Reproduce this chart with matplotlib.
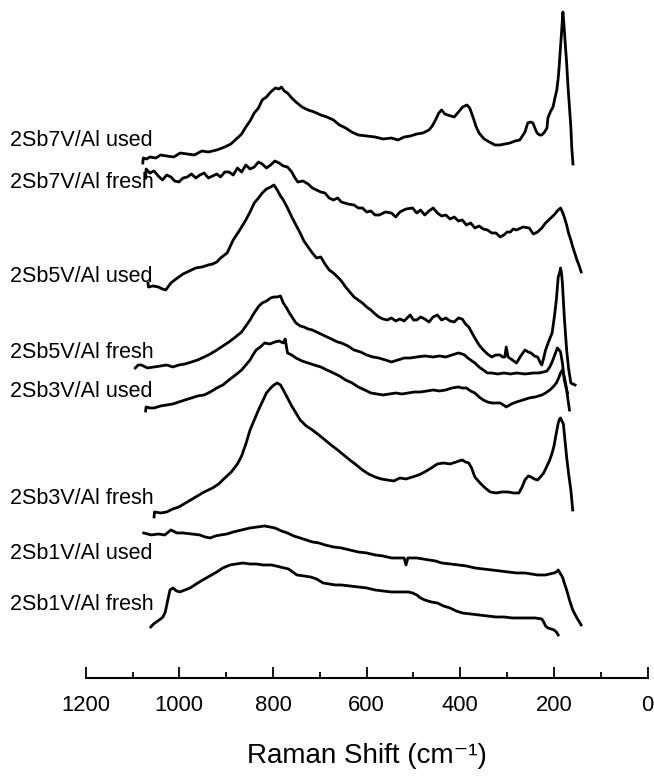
import matplotlib
matplotlib.use("Agg")
import matplotlib.pyplot as plt
import matplotlib.transforms as mtransforms
from matplotlib.ticker import MultipleLocator

plt.rcParams['font.family'] = ['Liberation Sans', 'DejaVu Sans']

# Stacked Raman spectra (arbitrary intensity units, offsets included)
labels = ["2Sb7V/Al used", "2Sb7V/Al fresh", "2Sb5V/Al used", "2Sb5V/Al fresh",
          "2Sb3V/Al used", "2Sb3V/Al fresh", "2Sb1V/Al used", "2Sb1V/Al fresh"]
label_levels = [537, 495, 401, 325, 286, 179, 124, 73]

sb7v_used_w = [1078, 1077, 1070, 1063, 1050, 1040, 1027, 1012, 998, 983, 968, 952, 938, 920,
               903, 890, 876, 867, 858, 849, 840, 831, 823, 814, 805, 795, 787, 782, 776,
               769, 760, 751, 738, 725, 712, 698, 685, 671, 658, 645, 632, 618, 600, 582,
               565, 547, 533, 520, 507, 493, 480, 467, 460, 453, 446, 440, 433, 427, 420,
               413, 404, 395, 386, 380, 373, 366, 360, 349, 338, 326, 315, 305, 294, 283,
               273, 262, 256, 250, 245, 240, 236, 231, 226, 220, 215, 213, 208, 202, 198,
               194, 191, 189, 187, 185, 183, 181, 179, 176.5, 173, 170, 167, 164, 162, 159.5]
sb7v_used_i = [515, 520, 519, 521, 520, 523, 522, 521, 525, 524, 523, 527, 526, 528,
               531, 534, 540, 544, 551, 557, 565, 570, 578, 581, 586, 590, 589, 591, 587,
               585, 580, 576, 571, 568, 566, 563, 561, 558, 553, 550, 546, 543, 542, 541,
               539, 540, 538, 541, 542, 544, 545, 548, 552, 558, 565, 568, 564, 563, 562,
               561, 566, 571, 573, 570, 561, 551, 545, 539, 536, 533, 533, 534, 535, 537,
               538, 546, 555, 556, 555, 549, 545, 543, 543, 546, 550, 560, 566, 571, 580,
               588, 600, 611, 625, 638, 652, 666, 655, 638, 615, 591, 571, 551, 530, 514]

sb7v_fresh_w = [1072, 1071, 1063, 1054, 1045, 1036, 1027, 1018, 1010, 1001, 992, 983, 974,
                965, 956, 947, 938, 929, 920, 912, 903, 894, 885, 876, 867, 858, 849, 840,
                831, 823, 814, 805, 796, 787, 778, 769, 760, 753, 747, 736, 725, 716, 707,
                698, 689, 680, 671, 662, 654, 640, 627, 618, 609, 600, 591, 582, 573, 560,
                547, 538, 529, 516, 502, 493, 485, 476, 467, 458, 449, 440, 431, 422, 413,
                404, 396, 387, 378, 369, 360, 351, 342, 333, 324, 315, 307, 300, 293, 287,
                280, 266, 253, 244, 235, 226, 218, 209, 200, 193, 186, 182, 178, 173, 169,
                164, 160, 155, 151, 146, 142]
sb7v_fresh_i = [500, 509, 505, 507, 502, 498, 503, 501, 497, 496, 500, 501, 504, 500,
                503, 505, 500, 502, 504, 501, 506, 506, 503, 510, 506, 513, 509, 511,
                516, 514, 510, 513, 517, 515, 512, 511, 506, 500, 496, 497, 494, 490,
                488, 486, 485, 480, 478, 480, 476, 474, 473, 470, 470, 466, 467, 463,
                463, 466, 465, 461, 466, 469, 470, 465, 468, 463, 467, 470, 465, 462,
                463, 459, 461, 457, 458, 453, 455, 450, 452, 449, 448, 445, 445, 441,
                443, 446, 446, 449, 448, 451, 450, 444, 446, 450, 455, 459, 463, 467,
                470, 466, 461, 453, 445, 438, 431, 424, 418, 412, 406]

sb5v_used_w = [1067, 1066, 1056, 1045, 1036, 1029, 1018, 1010, 1001, 992, 983, 974, 965,
               952, 938, 929, 920, 912, 898, 885, 871, 858, 849, 840, 831, 823, 814, 805,
               798, 791, 784, 778, 769, 760, 751, 742, 734, 725, 716, 707, 698, 689, 680,
               671, 662, 654, 645, 636, 627, 618, 609, 600, 591, 582, 574, 565, 556, 547,
               538, 529, 520, 507, 500, 493, 485, 476, 467, 458, 449, 440, 431, 422, 413,
               404, 396, 389, 382, 375, 369, 360, 351, 342, 333, 324, 315, 310, 305, 302,
               298, 289, 280, 271, 262, 255, 249, 242, 235, 230, 226, 222, 218, 211, 204,
               199, 195, 191, 188, 186, 184, 182, 180, 178, 173, 169, 164, 160, 155]
sb5v_used_i = [395, 391, 392, 391, 389, 388, 395, 398, 401, 404, 406, 408, 410,
               411, 413, 414, 416, 420, 425, 438, 448, 458, 466, 475, 480, 485, 489, 491,
               493, 488, 482, 478, 470, 461, 453, 445, 437, 431, 425, 420, 421, 414, 408,
               405, 401, 397, 391, 386, 381, 378, 375, 371, 368, 364, 361, 359, 358, 360,
               357, 359, 357, 363, 358, 358, 361, 359, 356, 361, 363, 358, 360, 357, 356,
               360, 359, 354, 351, 345, 340, 333, 328, 324, 321, 323, 323, 321, 321, 331,
               321, 318, 315, 322, 328, 326, 325, 322, 321, 316, 313, 320, 328, 337, 345,
               362, 378, 401, 405, 410, 405, 395, 378, 361, 328, 310, 295, 294, 293]

sb5v_fresh_w = [1094, 1088, 1081, 1068, 1054, 1040, 1027, 1014, 1001, 988, 974, 961, 947,
                934, 920, 907, 894, 880, 867, 858, 849, 843, 836, 830, 823, 814, 805, 798,
                791, 784, 778, 771, 765, 758, 751, 742, 734, 725, 716, 707, 698, 689, 680,
                671, 662, 654, 640, 627, 613, 600, 587, 574, 560, 547, 533, 520, 507, 493,
                476, 458, 445, 431, 418, 404, 396, 391, 384, 378, 369, 360, 351, 342, 333,
                320, 307, 293, 280, 262, 244, 233, 222, 215, 209, 204, 200, 196, 193, 189,
                186, 182, 178, 175, 173, 171]
sb5v_fresh_i = [310, 313, 313, 310, 311, 312, 313, 311, 313, 314, 316, 318, 321,
                324, 328, 332, 336, 341, 346, 352, 358, 363, 368, 372, 375, 377, 380, 381,
                381, 382, 375, 370, 365, 360, 355, 352, 351, 349, 348, 346, 344, 342, 340,
                338, 336, 335, 332, 328, 326, 323, 321, 320, 318, 316, 318, 320, 320, 321,
                322, 321, 322, 321, 323, 325, 324, 323, 320, 318, 315, 311, 308, 305, 305,
                304, 305, 304, 305, 304, 305, 305, 306, 307, 311, 316, 321, 326, 330, 328,
                326, 315, 298, 292, 288, 285]

sb3v_used_w = [1072, 1071, 1063, 1054, 1040, 1027, 1014, 1001, 988, 974, 961, 947, 934,
               920, 907, 894, 880, 867, 858, 849, 843, 836, 827, 818, 807, 796, 787, 778,
               774, 769, 760, 751, 738, 725, 712, 698, 685, 671, 658, 645, 631, 618, 604,
               591, 578, 565, 551, 538, 525, 511, 498, 485, 471, 458, 445, 431, 418, 404,
               396, 387, 378, 369, 360, 351, 342, 333, 324, 315, 308, 302, 291, 280, 266,
               253, 240, 226, 218, 209, 202, 195, 190, 186, 182, 178, 175, 173, 170, 167]
sb3v_used_i = [267, 271, 270, 270, 272, 273, 274, 276, 278, 280, 282, 283, 286,
               290, 293, 298, 303, 308, 313, 318, 323, 328, 331, 335, 334, 336, 337, 335,
               339, 325, 323, 320, 317, 315, 313, 311, 308, 305, 302, 298, 295, 291, 288,
               285, 284, 283, 284, 285, 284, 285, 286, 286, 287, 288, 287, 288, 290, 291,
               290, 290, 287, 285, 281, 278, 276, 275, 275, 275, 273, 271, 274, 276, 278,
               280, 281, 283, 285, 288, 291, 295, 300, 305, 308, 301, 294, 288, 278, 268]

sb3v_fresh_w = [1054, 1053, 1040, 1027, 1014, 1001, 983, 965, 947, 929, 916, 903, 889,
                876, 867, 858, 849, 840, 831, 823, 814, 805, 798, 791, 784, 778, 769, 760,
                751, 742, 729, 716, 702, 689, 676, 662, 649, 636, 622, 609, 596, 582, 569,
                556, 542, 529, 516, 502, 489, 476, 462, 449, 436, 422, 409, 396, 389, 382,
                376, 369, 358, 347, 336, 324, 311, 298, 287, 275, 268, 262, 255, 249, 242,
                235, 229, 222, 215, 209, 204, 200, 195, 191, 188, 186, 183, 180, 177, 173,
                169, 164, 160]
sb3v_fresh_i = [161, 166, 165, 166, 169, 171, 176, 181, 186, 190, 194, 200, 206,
                214, 222, 234, 248, 258, 268, 276, 285, 290, 293, 295, 293, 288, 280, 272,
                265, 258, 252, 248, 243, 238, 233, 228, 223, 218, 213, 208, 204, 201, 199,
                198, 197, 200, 199, 201, 203, 206, 210, 214, 215, 214, 216, 218, 216, 215,
                210, 201, 195, 190, 186, 185, 186, 186, 185, 185, 191, 198, 202, 201, 199,
                198, 201, 205, 212, 218, 225, 232, 245, 255, 259, 260, 257, 254, 240, 221,
                205, 188, 168]

sb1v_used_w = [1076, 1060, 1045, 1031, 1018, 1005, 992, 974, 956, 945, 934, 923, 912,
               898, 885, 867, 849, 833, 818, 807, 796, 782, 769, 756, 742, 729, 716, 702,
               689, 671, 654, 636, 618, 600, 582, 565, 547, 533, 520, 516, 512, 493, 480,
               467, 453, 440, 422, 404, 387, 369, 351, 333, 315, 298, 280, 262, 249, 235,
               226, 218, 209, 200, 195, 191, 186, 182, 178, 173, 167, 160, 151, 142]
sb1v_used_i = [145, 143, 144, 143, 148, 145, 145, 144, 143, 141, 140, 142, 143,
               144, 146, 148, 150, 151, 152, 151, 150, 147, 145, 142, 140, 138, 136, 135,
               133, 131, 130, 128, 126, 125, 123, 122, 120, 120, 120, 113, 120, 120, 119,
               118, 117, 115, 114, 113, 112, 110, 109, 108, 107, 106, 105, 105, 104, 103,
               103, 103, 104, 105, 106, 108, 104, 101, 95, 88, 78, 68, 60, 53]

sb1v_fresh_w = [1061, 1055, 1049, 1040, 1035, 1030, 1026, 1020, 1014, 1006, 999, 988, 977,
                964, 950, 935, 920, 907, 892, 878, 864, 850, 836, 821, 803, 785, 767,
                749, 734, 720, 707, 693, 680, 667, 654, 636, 618, 600, 582, 565, 547,
                529, 511, 502, 493, 485, 476, 462, 449, 436, 422, 409, 396, 378, 360, 342,
                324, 307, 289, 271, 253, 240, 226, 222, 218, 213, 206, 200, 195, 191]
sb1v_fresh_i = [51, 54, 56, 59, 61, 66, 75, 88, 90, 87, 86, 88, 90,
                94, 98, 102, 106, 110, 113, 114, 115, 114, 114, 113, 113, 111, 109,
                103, 102, 101, 99, 95, 94, 93, 93, 92, 91, 90, 88, 87, 86,
                86, 86, 85, 83, 80, 78, 76, 75, 72, 70, 67, 65, 64, 63, 62,
                61, 61, 60, 60, 60, 60, 59, 56, 52, 50, 49, 48, 46, 43]

spectra = [
    (sb7v_used_w, sb7v_used_i),
    (sb7v_fresh_w, sb7v_fresh_i),
    (sb5v_used_w, sb5v_used_i),
    (sb5v_fresh_w, sb5v_fresh_i),
    (sb3v_used_w, sb3v_used_i),
    (sb3v_fresh_w, sb3v_fresh_i),
    (sb1v_used_w, sb1v_used_i),
    (sb1v_fresh_w, sb1v_fresh_i),
]

x_major = [1200, 1000, 800, 600, 400, 200, 0]

fig = plt.figure(figsize=(6.54, 7.79), dpi=100)
ax = fig.add_axes([0.131, 0.1297, 0.8593, 0.8703])

for w, inten in spectra:
    ax.plot(w, inten, color='black', lw=2.0, solid_joinstyle='round')

ax.set_xlim(1200, 0)
ax.set_ylim(0, 678)

for s in ('left', 'right', 'top'):
    ax.spines[s].set_visible(False)
ax.spines['bottom'].set_linewidth(1.5)
ax.set_yticks([])
ax.set_xticks(x_major)
ax.set_xticklabels([str(v) for v in x_major])
ax.xaxis.set_minor_locator(MultipleLocator(100))
ax.tick_params(axis='x', which='major', direction='in', length=8, width=1.3,
               labelsize=15.8, pad=12)
ax.tick_params(axis='x', which='minor', direction='in', length=4, width=1.3)
ax.set_xlabel("Raman Shift (cm\u207b\u00b9)", fontsize=20, labelpad=20)

trans = mtransforms.blended_transform_factory(fig.transFigure, ax.transData)
for name, lev in zip(labels, label_levels):
    ax.text(10 / 654, lev, name, transform=trans, fontsize=15.5, ha='left',
            va='center', clip_on=False)

fig.savefig("out.png", dpi=100)
